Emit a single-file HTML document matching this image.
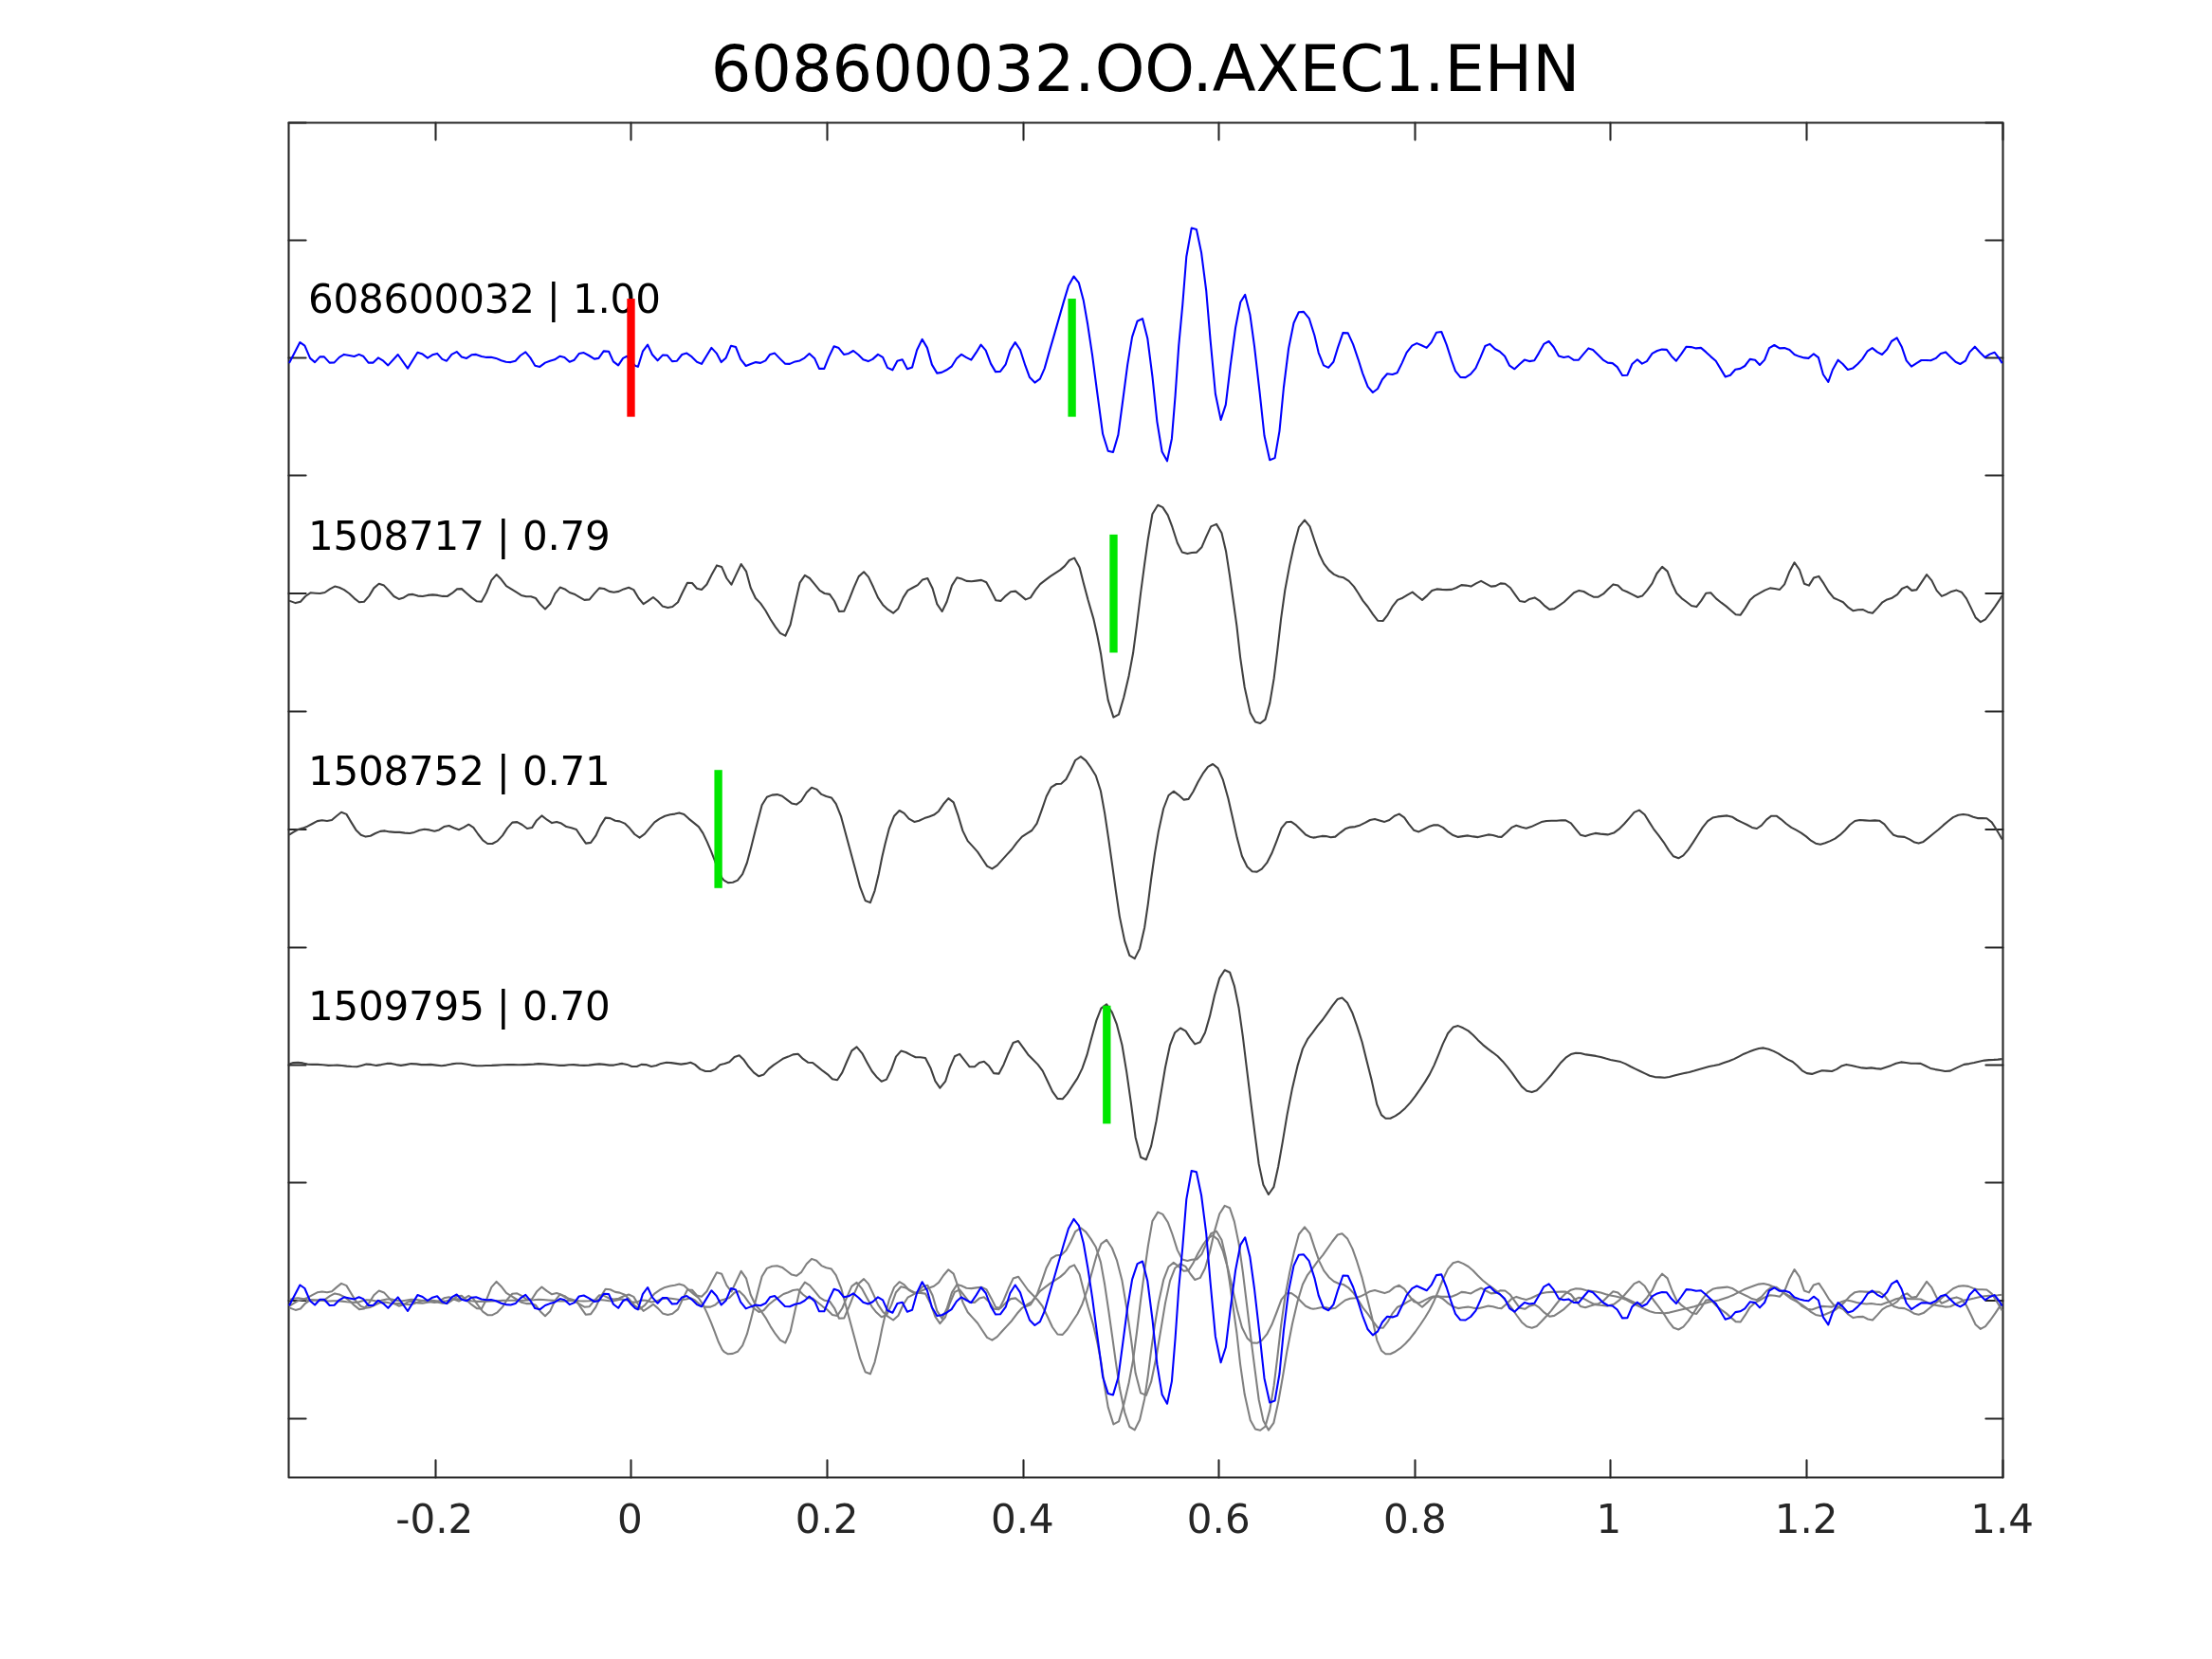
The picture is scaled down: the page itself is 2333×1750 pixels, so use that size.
<!DOCTYPE html>
<html><head><meta charset="utf-8"><title>608600032.OO.AXEC1.EHN</title>
<style>
html,body{margin:0;padding:0;background:#fff;overflow:hidden;}
svg{display:block;}
text{font-family:"DejaVu Sans","Liberation Sans",sans-serif;will-change:transform;}
.tk{font-size:42px;fill:#262626;}
.lb{font-size:42px;fill:#000;letter-spacing:-0.2px;}
.ti{font-size:67px;fill:#000;}
</style></head><body>
<svg width="2333" height="1750" viewBox="0 0 2333 1750">
<rect width="2333" height="1750" fill="#fff"/>
<path d="M304.5,129.5H2112.5V1558.5H304.5Z" fill="none" stroke="#262626" stroke-width="2.08" stroke-linejoin="round"/>
<path d="M459.5,1558.5V1540.40M459.5,129.5V147.60M665.5,1558.5V1540.40M665.5,129.5V147.60M872.5,1558.5V1540.40M872.5,129.5V147.60M1079.5,1558.5V1540.40M1079.5,129.5V147.60M1285.5,1558.5V1540.40M1285.5,129.5V147.60M1492.5,1558.5V1540.40M1492.5,129.5V147.60M1698.5,1558.5V1540.40M1698.5,129.5V147.60M1905.5,1558.5V1540.40M1905.5,129.5V147.60M2112.5,1558.5V1540.40M2112.5,129.5V147.60M304.5,129.5H322.60M2112.5,129.5H2094.40M304.5,253.5H322.60M2112.5,253.5H2094.40M304.5,377.5H322.60M2112.5,377.5H2094.40M304.5,501.5H322.60M2112.5,501.5H2094.40M304.5,626.0H322.60M2112.5,626.0H2094.40M304.5,750.5H322.60M2112.5,750.5H2094.40M304.5,875.0H322.60M2112.5,875.0H2094.40M304.5,999.5H322.60M2112.5,999.5H2094.40M304.5,1123.5H322.60M2112.5,1123.5H2094.40M304.5,1247.5H322.60M2112.5,1247.5H2094.40M304.5,1372.0H322.60M2112.5,1372.0H2094.40M304.5,1496.5H322.60M2112.5,1496.5H2094.40" stroke="#262626" stroke-width="2.08" stroke-linecap="round" fill="none"/>
<polyline points="305.0,1379.4 311.7,1381.9 316.9,1380.5 322.1,1374.8 327.4,1371.1 332.6,1371.5 337.4,1371.8 342.6,1370.8 347.9,1367.2 353.1,1364.4 357.9,1365.5 362.9,1367.9 368.3,1371.8 373.6,1376.9 378.9,1381.1 384.0,1380.5 389.3,1374.4 394.3,1366.2 399.7,1361.5 405.0,1363.4 410.3,1369.1 415.4,1374.8 420.7,1377.7 425.7,1376.2 430.7,1373.2 435.4,1372.7 440.7,1374.4 445.7,1374.8 451.1,1373.7 456.4,1373.2 461.7,1373.7 466.9,1374.7 471.7,1374.8 476.9,1371.5 482.1,1367.2 486.9,1366.9 492.1,1371.5 497.4,1376.2 502.9,1380.1 507.9,1380.4 513.1,1370.8 518.3,1357.9 523.6,1351.9 528.6,1356.9 534.0,1363.9 539.3,1367.2 544.6,1370.5 549.7,1373.7 555.0,1375.1 560.0,1375.1 565.0,1376.8 570.0,1383.4 575.0,1388.2 580.3,1382.9 585.4,1371.9 590.7,1365.4 595.7,1367.2 600.7,1370.8 605.7,1372.5 610.7,1375.4 616.4,1378.7 621.7,1378.2 626.9,1371.9 632.1,1366.2 637.1,1366.8 642.6,1369.7 647.4,1370.5 652.6,1369.7 657.9,1367.2 663.1,1365.5 668.3,1367.9 673.6,1376.8 678.6,1382.9 683.6,1379.7 688.9,1375.8 694.0,1380.1 698.9,1385.4 704.3,1386.9 709.3,1385.8 715.0,1381.1 719.7,1371.1 725.0,1360.5 730.0,1360.8 735.0,1366.5 740.0,1367.7 745.4,1362.2 750.7,1351.9 756.0,1342.2 761.1,1343.7 766.4,1355.8 771.4,1362.5 776.4,1351.9 781.7,1340.8 787.1,1348.7 791.7,1365.8 796.9,1376.8 802.1,1382.2 807.4,1389.8 812.6,1399.1 817.9,1407.2 822.9,1413.7 828.3,1416.5 833.6,1404.8 838.6,1382.2 843.6,1360.4 848.9,1352.7 854.0,1355.8 859.3,1362.2 864.6,1368.7 869.7,1371.8 875.0,1372.7 880.0,1379.8 885.0,1390.8 890.3,1390.4 895.7,1377.9 900.7,1365.1 905.7,1353.9 911.1,1349.1 916.0,1354.4 921.1,1365.1 926.0,1376.2 931.1,1383.7 936.4,1388.7 942.1,1392.5 947.4,1387.7 952.6,1376.2 957.4,1368.7 962.6,1365.8 967.9,1362.9 973.1,1357.2 978.3,1355.8 983.6,1366.5 988.3,1382.9 993.6,1390.8 998.6,1380.5 1004.0,1363.4 1009.3,1355.1 1014.0,1356.2 1019.3,1358.7 1024.6,1359.1 1029.7,1358.4 1035.0,1357.7 1040.3,1360.1 1045.4,1369.4 1050.3,1379.1 1055.4,1379.7 1060.7,1374.4 1066.0,1370.1 1071.1,1369.4 1076.4,1373.7 1081.7,1378.2 1086.9,1376.2 1092.1,1368.2 1097.1,1361.9 1102.6,1357.7 1107.9,1353.7 1112.9,1350.4 1118.3,1346.9 1122.9,1342.9 1127.9,1336.8 1133.1,1334.4 1138.6,1344.2 1142.8,1360.8 1147.6,1378.8 1153.3,1398.4 1157.4,1416.5 1161.2,1436.1 1164.9,1461.7 1168.7,1484.4 1174.4,1502.4 1180.0,1499.4 1185.3,1481.3 1190.6,1458.7 1195.1,1434.6 1198.9,1406.0 1203.1,1371.3 1207.1,1341.2 1210.9,1314.0 1215.4,1288.1 1221.2,1278.6 1226.3,1280.9 1231.7,1289.2 1236.5,1302.0 1241.8,1318.6 1246.8,1328.4 1252.4,1329.9 1256.9,1328.8 1262.2,1328.4 1267.4,1323.1 1272.0,1312.5 1277.2,1301.2 1283.0,1298.7 1288.5,1308.0 1293.1,1327.6 1296.8,1351.7 1300.6,1378.8 1304.4,1406.0 1308.1,1439.1 1312.7,1470.8 1318.7,1497.9 1324.0,1507.4 1329.2,1508.8 1334.5,1504.7 1339.3,1487.4 1343.6,1461.7 1347.3,1431.6 1351.1,1398.4 1355.3,1368.3 1360.1,1342.7 1364.7,1321.6 1369.9,1302.0 1376.0,1294.4 1381.5,1301.2 1386.5,1316.3 1391.5,1330.6 1396.3,1340.4 1401.6,1347.2 1406.9,1351.7 1412.1,1354.0 1417.1,1355.1 1422.6,1358.7 1427.9,1364.4 1432.6,1371.5 1437.4,1379.4 1442.6,1385.8 1447.9,1393.7 1453.1,1400.5 1458.6,1400.8 1463.6,1394.4 1468.9,1385.1 1474.0,1378.7 1479.3,1376.5 1484.3,1373.4 1489.7,1370.4 1495.0,1374.8 1500.0,1378.7 1505.4,1373.9 1510.3,1368.9 1515.4,1367.2 1520.7,1367.7 1525.7,1367.9 1531.1,1367.7 1536.0,1365.8 1541.4,1362.9 1546.4,1363.4 1551.4,1364.4 1556.9,1361.2 1562.1,1358.7 1567.1,1361.5 1572.6,1364.4 1577.4,1363.9 1582.6,1361.2 1587.4,1361.5 1592.9,1365.8 1597.9,1372.9 1602.9,1379.8 1608.3,1380.8 1613.1,1377.7 1618.6,1376.2 1623.6,1379.4 1628.6,1384.4 1634.3,1388.7 1639.3,1387.9 1644.6,1384.4 1649.7,1380.8 1655.0,1375.8 1660.0,1371.1 1665.4,1368.7 1670.4,1369.8 1675.7,1372.9 1680.7,1375.5 1685.7,1375.4 1691.1,1372.2 1696.0,1367.2 1701.4,1362.2 1706.4,1363.4 1711.4,1368.2 1716.0,1370.1 1721.7,1372.9 1727.4,1375.8 1732.1,1374.4 1737.1,1368.7 1742.6,1361.2 1747.4,1350.8 1753.1,1343.7 1758.6,1348.4 1763.6,1361.5 1768.3,1371.5 1773.6,1376.9 1778.9,1380.8 1784.0,1384.8 1789.3,1385.9 1794.3,1379.4 1799.3,1371.5 1804.3,1371.1 1810.0,1377.2 1815.4,1381.5 1820.7,1385.4 1826.0,1390.1 1830.7,1394.1 1835.7,1394.5 1840.7,1387.2 1845.7,1378.9 1850.7,1374.4 1856.0,1371.5 1861.4,1368.4 1866.9,1366.2 1872.1,1366.8 1877.1,1367.7 1882.1,1362.2 1887.4,1348.7 1892.6,1339.1 1897.9,1346.8 1902.9,1361.5 1907.9,1363.4 1912.9,1355.4 1918.3,1353.7 1923.6,1361.5 1928.6,1369.8 1934.0,1376.5 1938.9,1378.7 1944.0,1381.1 1949.3,1386.5 1954.6,1390.1 1959.7,1389.1 1965.0,1388.9 1970.0,1391.5 1975.0,1392.5 1980.3,1386.9 1985.4,1381.1 1990.3,1378.2 1995.7,1376.5 2001.1,1372.9 2006.0,1366.8 2011.4,1364.4 2016.4,1368.7 2021.4,1367.9 2032.1,1351.9 2037.4,1358.2 2042.6,1368.7 2047.9,1374.7 2053.1,1372.5 2058.3,1369.7 2063.6,1368.4 2068.9,1370.5 2074.0,1377.2 2078.9,1387.2 2083.6,1397.2 2088.9,1401.9 2094.0,1399.1 2099.3,1392.5 2104.3,1385.4 2109.3,1377.9 2111.7,1373.9" fill="none" stroke="#808080" stroke-width="2.08" stroke-linejoin="round"/>
<polyline points="305.0,1377.9 309.3,1375.1 314.3,1372.2 319.3,1370.8 324.3,1368.9 329.3,1366.2 334.6,1363.3 339.7,1362.5 345.0,1363.2 350.0,1362.2 355.0,1357.9 360.0,1353.9 365.4,1356.1 370.3,1364.3 375.4,1372.6 380.7,1377.9 385.7,1379.8 390.7,1378.9 396.0,1376.2 401.1,1374.1 406.0,1373.6 411.1,1374.6 416.4,1375.1 421.4,1375.1 426.9,1375.8 432.1,1376.2 437.1,1375.1 442.4,1372.9 447.6,1371.9 452.9,1372.6 458.3,1373.9 463.1,1372.6 468.3,1369.3 473.6,1368.2 478.6,1370.5 484.0,1372.5 488.9,1370.1 494.3,1366.9 499.3,1370.1 504.3,1377.2 509.3,1383.6 514.3,1387.2 519.3,1387.2 524.6,1384.3 530.0,1378.6 535.0,1370.8 540.3,1364.8 545.4,1364.3 550.7,1367.2 556.0,1371.2 561.1,1370.3 566.0,1362.6 571.4,1357.6 576.9,1361.9 582.1,1365.3 587.1,1364.1 592.1,1365.8 597.4,1369.3 602.6,1370.5 607.9,1372.2 612.1,1378.6 617.9,1386.8 623.1,1386.1 628.3,1378.9 633.1,1368.6 638.6,1359.8 643.6,1360.3 648.9,1362.9 653.6,1363.6 658.9,1365.8 664.0,1370.8 669.3,1377.2 674.6,1380.8 680.0,1376.9 685.0,1370.8 690.3,1364.6 695.7,1360.8 701.4,1357.9 706.9,1356.5 711.7,1355.8 716.4,1354.6 721.4,1356.1 726.4,1360.8 731.7,1365.1 736.9,1369.3 741.4,1376.1 745.7,1385.1 750.0,1395.1 753.6,1404.3 757.9,1415.8 761.7,1423.6 763.6,1425.8 767.9,1428.3 772.9,1427.9 777.9,1425.8 783.1,1419.3 787.9,1407.2 792.1,1391.5 796.4,1374.3 800.0,1360.1 803.6,1346.5 808.9,1337.9 814.3,1335.8 819.7,1335.3 825.0,1336.9 830.0,1340.8 835.0,1344.6 840.0,1345.8 845.0,1342.2 850.7,1333.2 856.0,1327.9 861.1,1329.8 866.4,1335.1 871.4,1337.2 876.9,1338.6 881.7,1345.1 887.1,1358.6 892.1,1377.2 897.1,1395.8 902.1,1414.3 907.1,1432.9 912.6,1447.2 917.9,1449.3 922.6,1436.8 926.9,1418.6 930.3,1401.5 933.6,1387.2 937.9,1370.8 943.1,1357.9 948.6,1352.2 953.6,1355.1 958.6,1360.8 964.3,1364.1 969.3,1362.9 975.0,1360.3 980.0,1358.6 985.0,1356.8 990.0,1352.9 995.0,1345.5 1000.3,1339.3 1005.7,1343.6 1010.7,1357.9 1015.4,1373.6 1020.7,1384.3 1026.0,1390.1 1031.1,1395.8 1036.0,1403.2 1041.1,1410.8 1046.4,1413.6 1051.7,1410.1 1056.9,1404.3 1062.1,1398.6 1067.1,1393.2 1072.6,1385.8 1077.9,1379.8 1082.9,1376.5 1088.3,1373.2 1093.6,1365.8 1098.5,1352.3 1103.7,1337.2 1108.8,1327.5 1114.3,1324.2 1119.2,1323.9 1124.4,1319.1 1129.3,1309.7 1134.1,1299.2 1139.9,1295.3 1145.3,1299.6 1150.5,1306.9 1155.8,1315.5 1160.9,1331.4 1165.2,1355.3 1169.3,1382.8 1173.2,1410.3 1176.8,1436.3 1180.8,1463.8 1186.2,1489.8 1191.3,1505.0 1196.8,1508.3 1202.1,1497.8 1207.2,1475.4 1210.8,1450.8 1214.1,1424.7 1218.0,1397.3 1221.9,1374.1 1227.1,1350.2 1232.5,1336.2 1237.8,1331.9 1243.0,1335.8 1248.4,1340.8 1253.5,1340.1 1258.5,1332.2 1263.6,1322.0 1268.6,1313.4 1274.0,1306.1 1279.2,1303.2 1284.6,1307.6 1289.9,1319.9 1295.4,1339.4 1300.0,1359.6 1304.8,1381.3 1309.9,1400.2 1315.4,1411.4 1320.7,1416.4 1325.8,1416.8 1330.8,1413.9 1336.2,1407.4 1341.4,1397.3 1346.8,1383.5 1351.5,1370.9 1356.9,1364.4 1361.9,1364.0 1367.0,1367.6 1372.1,1372.7 1377.1,1377.7 1382.5,1380.3 1385.0,1380.8 1388.4,1380.3 1394.3,1379.1 1398.6,1379.3 1403.6,1380.5 1408.3,1379.8 1413.6,1375.5 1418.9,1371.5 1424.0,1369.8 1429.3,1369.3 1434.6,1367.6 1439.7,1365.1 1445.0,1362.2 1450.0,1361.1 1455.0,1362.6 1460.3,1364.1 1465.4,1362.2 1470.7,1357.9 1475.7,1355.8 1481.1,1359.6 1486.0,1366.5 1491.1,1372.9 1496.4,1374.6 1501.4,1372.2 1506.9,1369.3 1511.7,1367.6 1516.9,1367.5 1521.9,1370.1 1527.1,1374.6 1532.6,1378.3 1537.9,1380.1 1542.9,1379.3 1548.3,1378.6 1553.6,1379.6 1558.9,1380.3 1564.3,1378.9 1569.7,1377.6 1574.6,1378.2 1579.7,1379.8 1583.6,1380.1 1588.9,1375.5 1594.3,1370.1 1599.3,1367.9 1604.6,1369.8 1609.7,1370.9 1615.0,1369.3 1620.3,1366.8 1625.7,1364.3 1631.1,1363.2 1636.4,1362.9 1641.7,1362.9 1646.9,1362.5 1651.4,1362.6 1656.9,1365.5 1661.7,1371.5 1666.9,1377.9 1672.1,1379.3 1677.4,1377.5 1682.6,1376.1 1687.9,1376.8 1695.7,1377.6 1702.1,1375.8 1707.4,1371.9 1712.9,1366.5 1718.3,1360.3 1723.6,1354.1 1728.9,1351.8 1734.6,1356.5 1739.3,1364.1 1744.0,1371.5 1749.3,1378.3 1754.6,1385.5 1760.0,1394.1 1765.0,1400.5 1770.3,1402.5 1775.4,1399.6 1780.7,1393.3 1785.7,1385.8 1790.7,1377.9 1795.7,1370.1 1801.1,1363.3 1806.4,1359.8 1811.7,1358.6 1816.9,1358.1 1821.7,1357.6 1826.9,1358.9 1832.1,1362.2 1837.1,1364.6 1842.6,1367.2 1847.9,1370.1 1852.9,1371.2 1857.9,1367.9 1863.1,1361.8 1868.3,1357.9 1873.6,1357.9 1878.6,1361.5 1884.0,1366.2 1889.3,1370.1 1894.6,1372.9 1899.7,1375.8 1905.0,1379.6 1910.0,1383.9 1915.0,1386.9 1920.0,1387.9 1925.0,1386.5 1930.3,1384.3 1935.4,1381.8 1940.7,1377.9 1946.0,1372.9 1951.1,1367.2 1956.4,1363.2 1961.4,1362.2 1966.9,1362.6 1972.1,1362.9 1977.4,1362.6 1982.1,1362.9 1987.4,1366.5 1992.1,1372.6 1997.1,1377.9 2002.1,1379.6 2008.6,1380.1 2014.0,1382.6 2019.3,1385.8 2023.6,1386.8 2028.6,1385.1 2034.0,1380.8 2039.3,1376.5 2044.6,1372.2 2049.7,1367.6 2055.0,1363.2 2060.0,1359.3 2065.4,1356.9 2070.7,1356.2 2076.0,1356.9 2081.1,1358.9 2085.7,1360.3 2090.7,1360.3 2095.4,1360.5 2100.7,1364.6 2105.0,1371.2 2108.6,1377.2 2111.7,1382.6" fill="none" stroke="#808080" stroke-width="2.08" stroke-linejoin="round"/>
<polyline points="305.0,1371.2 309.3,1369.7 314.3,1369.3 319.3,1370.0 324.3,1371.2 329.3,1371.5 335.0,1371.5 340.7,1371.9 346.4,1372.5 351.4,1372.3 355.7,1372.2 360.7,1372.6 365.7,1373.2 370.7,1373.6 376.4,1373.9 381.4,1372.6 386.4,1371.2 391.4,1371.5 397.1,1372.5 402.1,1371.7 407.9,1370.5 412.9,1370.5 417.9,1371.7 422.9,1372.5 427.9,1371.7 433.6,1370.7 439.3,1371.0 444.3,1371.7 449.3,1371.7 454.3,1371.5 460.0,1372.2 465.7,1372.9 470.7,1372.2 476.4,1371.0 481.4,1370.3 486.4,1370.3 491.4,1371.2 497.1,1372.2 502.9,1372.9 507.9,1372.9 512.9,1372.6 518.6,1372.5 524.3,1372.2 530.0,1371.9 535.7,1371.7 541.4,1371.7 547.1,1371.9 552.9,1371.7 557.9,1371.5 562.9,1371.2 567.9,1370.7 572.9,1371.0 578.6,1371.5 584.3,1371.9 590.0,1372.5 595.0,1372.5 600.0,1371.9 605.0,1371.7 610.7,1372.2 615.7,1372.5 621.1,1372.2 626.9,1371.5 632.1,1371.0 637.4,1371.5 642.6,1372.2 647.4,1372.2 652.9,1371.0 656.4,1370.5 661.4,1371.5 666.4,1373.6 671.7,1373.6 676.4,1371.5 681.4,1371.7 686.9,1373.6 692.1,1372.6 697.1,1370.5 702.9,1369.3 707.9,1369.7 713.1,1370.5 718.3,1371.2 723.6,1370.5 728.3,1369.3 732.9,1371.5 738.6,1376.5 744.0,1378.6 749.3,1378.6 754.3,1376.5 759.3,1371.9 764.3,1370.5 769.3,1368.9 774.6,1363.6 779.7,1361.9 784.6,1366.7 789.7,1373.9 795.0,1380.0 800.4,1383.9 805.4,1382.2 810.7,1376.2 815.7,1372.2 821.1,1368.6 826.4,1365.0 831.4,1363.2 836.4,1361.0 841.7,1360.3 846.9,1365.5 852.1,1369.3 857.1,1369.6 862.6,1374.0 867.9,1378.3 872.9,1381.9 877.9,1386.9 883.1,1387.9 888.3,1380.0 893.1,1368.6 898.3,1356.9 903.6,1352.9 909.3,1359.7 914.3,1369.0 919.7,1378.6 924.3,1384.3 929.7,1389.3 935.0,1387.2 940.0,1376.9 945.0,1363.2 950.3,1357.2 955.4,1358.6 960.7,1361.5 965.7,1363.9 970.7,1363.9 976.0,1364.6 981.4,1375.0 986.4,1388.9 991.4,1396.2 997.1,1389.3 1001.7,1375.0 1006.9,1362.9 1012.1,1360.5 1017.4,1367.2 1022.6,1373.9 1027.9,1373.9 1032.9,1369.6 1037.9,1368.3 1043.1,1373.2 1048.1,1380.7 1053.6,1381.2 1058.6,1371.5 1063.6,1359.3 1068.6,1348.6 1074.0,1346.7 1079.3,1354.0 1084.3,1361.0 1089.3,1366.0 1094.6,1371.5 1099.7,1378.2 1105.0,1389.3 1110.0,1400.0 1115.4,1407.5 1120.7,1407.9 1125.7,1402.2 1131.1,1394.0 1136.4,1386.0 1141.4,1375.7 1146.4,1361.5 1151.4,1342.9 1156.4,1325.0 1161.4,1312.2 1167.1,1307.9 1172.9,1316.5 1177.9,1329.3 1183.5,1351.1 1188.2,1379.3 1192.9,1412.2 1197.6,1448.3 1203.1,1469.4 1208.9,1471.8 1214.1,1457.7 1219.6,1431.0 1224.3,1402.8 1229.0,1374.6 1234.0,1351.1 1239.2,1337.8 1245.0,1333.1 1250.6,1336.2 1255.6,1344.0 1260.3,1350.0 1265.8,1347.9 1271.0,1337.8 1276.0,1320.5 1281.0,1298.6 1286.2,1280.5 1291.7,1271.9 1297.1,1274.3 1301.8,1288.4 1306.6,1311.9 1310.8,1341.7 1315.2,1377.7 1319.6,1413.8 1323.8,1446.7 1327.7,1476.5 1332.4,1498.4 1337.9,1508.6 1343.4,1500.8 1348.1,1479.6 1352.8,1453.0 1357.5,1424.7 1363.0,1396.5 1368.5,1373.0 1373.9,1355.0 1379.1,1344.8 1384.5,1337.8 1389.6,1330.7 1395.1,1324.1 1399.8,1317.4 1405.3,1309.5 1410.8,1302.5 1415.5,1301.2 1421.0,1306.4 1426.5,1317.4 1431.2,1330.7 1436.6,1347.9 1441.3,1366.8 1446.8,1388.7 1452.3,1413.8 1457.0,1424.7 1461.4,1428.3 1466.4,1428.3 1471.7,1425.7 1476.9,1422.2 1482.1,1417.5 1487.4,1411.7 1492.6,1405.0 1497.9,1397.5 1502.9,1390.0 1507.9,1381.7 1512.6,1372.2 1517.1,1361.5 1521.7,1350.0 1527.1,1338.6 1532.6,1332.2 1537.9,1330.7 1543.1,1332.9 1548.6,1336.0 1553.6,1340.3 1558.6,1345.5 1564.0,1350.7 1569.3,1355.0 1574.6,1358.9 1579.7,1362.9 1585.0,1368.3 1590.0,1374.3 1595.0,1380.7 1599.7,1387.5 1605.0,1394.7 1610.3,1399.3 1615.7,1400.7 1620.7,1398.9 1625.7,1394.0 1631.1,1388.2 1636.0,1382.6 1641.1,1376.0 1646.4,1369.3 1651.4,1364.3 1656.9,1360.7 1662.1,1359.3 1667.1,1359.6 1672.6,1361.0 1677.9,1361.7 1683.1,1362.5 1688.3,1363.6 1693.6,1365.2 1698.6,1366.5 1704.0,1367.6 1709.3,1368.7 1714.3,1370.7 1719.7,1373.6 1725.0,1376.2 1730.0,1378.6 1735.0,1381.0 1740.0,1383.3 1745.4,1384.7 1750.7,1385.0 1755.7,1385.3 1760.7,1384.6 1766.0,1383.2 1771.1,1381.9 1776.4,1380.7 1781.7,1379.6 1786.9,1378.2 1792.1,1376.5 1797.4,1375.0 1802.6,1373.6 1807.9,1372.6 1812.9,1371.5 1818.3,1369.7 1823.6,1367.9 1828.9,1365.7 1834.3,1362.9 1839.3,1360.3 1844.6,1358.2 1850.0,1356.2 1855.0,1354.6 1860.0,1354.0 1865.4,1355.3 1870.7,1357.5 1875.7,1360.0 1880.7,1363.3 1885.7,1366.2 1890.7,1368.6 1895.7,1372.9 1900.7,1377.9 1905.7,1380.7 1911.1,1381.5 1916.4,1379.6 1921.7,1377.9 1927.1,1378.2 1932.1,1378.6 1937.1,1376.5 1942.1,1373.2 1947.4,1371.5 1952.9,1372.6 1958.3,1373.9 1963.6,1375.0 1968.6,1375.5 1973.6,1375.0 1978.6,1375.7 1984.0,1376.2 1989.3,1374.3 1994.6,1372.5 1999.7,1370.3 2005.0,1369.0 2010.3,1369.6 2015.4,1370.3 2020.7,1370.3 2025.7,1370.5 2030.7,1372.9 2036.0,1375.5 2041.1,1376.7 2046.4,1377.6 2051.4,1378.6 2056.9,1378.2 2062.1,1375.7 2071.4,1371.5 2076.9,1370.7 2082.1,1369.6 2087.4,1368.3 2092.9,1367.2 2097.9,1366.7 2102.9,1366.5 2107.1,1366.2 2111.7,1365.7" fill="none" stroke="#808080" stroke-width="2.08" stroke-linejoin="round"/>
<polyline points="305.0,1377.3 316.4,1355.5 321.4,1359.0 327.1,1372.3 332.1,1376.5 337.4,1370.8 341.9,1370.8 347.6,1377.0 352.6,1376.8 357.9,1371.3 362.9,1368.3 368.6,1369.4 373.6,1370.4 378.6,1368.3 383.1,1370.1 388.6,1377.0 393.6,1377.0 398.9,1371.8 404.3,1375.1 409.3,1379.8 419.7,1368.4 430.0,1383.0 440.4,1366.1 445.7,1368.0 451.0,1372.0 456.1,1368.7 461.1,1367.3 466.4,1373.3 471.1,1375.1 476.4,1368.3 481.7,1365.5 486.9,1370.8 492.1,1372.3 497.4,1368.7 502.1,1368.3 507.9,1370.4 513.1,1371.3 517.9,1371.1 523.1,1372.3 528.6,1374.7 533.6,1376.1 538.6,1376.5 543.6,1375.1 548.9,1369.4 554.3,1365.8 559.3,1371.8 564.3,1380.1 569.3,1381.3 575.0,1377.0 580.0,1375.1 585.0,1373.7 590.7,1370.1 595.4,1371.3 600.7,1376.1 605.7,1374.1 610.7,1367.5 615.7,1366.5 621.1,1369.4 626.9,1373.0 631.4,1372.3 636.7,1364.8 642.1,1365.1 646.9,1375.8 652.1,1379.8 657.1,1372.3 661.4,1370.1 665.7,1375.8 670.0,1380.1 672.9,1381.3 677.9,1365.1 683.1,1358.0 687.9,1368.4 693.6,1374.7 698.9,1369.0 703.6,1369.1 708.9,1375.5 714.0,1375.1 719.3,1368.4 724.3,1367.0 729.7,1370.8 735.0,1376.1 740.0,1378.3 745.4,1369.4 750.4,1361.3 755.7,1367.0 760.7,1376.5 765.7,1371.8 771.0,1359.1 776.0,1360.4 781.1,1373.3 786.7,1380.4 791.7,1378.4 797.1,1376.5 802.1,1377.3 807.4,1374.8 812.1,1368.3 817.1,1367.0 822.9,1373.0 827.9,1378.0 832.9,1378.3 838.6,1375.8 843.6,1374.8 848.6,1372.0 853.6,1367.5 859.3,1372.7 864.0,1383.3 869.3,1383.3 874.3,1370.8 879.6,1359.7 884.6,1361.5 890.0,1368.3 895.0,1367.3 900.0,1364.4 905.4,1368.7 910.4,1373.7 915.7,1375.5 920.4,1373.3 926.0,1368.3 931.1,1371.3 936.0,1382.3 941.4,1384.7 946.4,1375.1 951.7,1373.7 956.9,1383.7 962.1,1381.8 967.1,1363.7 972.6,1352.3 977.9,1361.3 982.9,1379.0 988.3,1388.0 993.1,1387.3 998.3,1384.7 1003.6,1381.1 1008.9,1372.7 1014.0,1368.3 1019.3,1371.5 1024.3,1374.1 1029.7,1366.1 1034.6,1358.0 1039.7,1364.0 1045.0,1378.0 1050.0,1386.5 1055.0,1386.3 1060.7,1378.7 1065.4,1364.0 1070.7,1355.5 1076.0,1363.4 1081.4,1380.1 1086.0,1392.5 1091.4,1398.0 1096.9,1394.1 1101.7,1383.0 1106.5,1366.0 1112.2,1346.5 1122.0,1312.3 1126.9,1296.0 1132.5,1285.9 1137.9,1292.8 1142.8,1311.5 1147.2,1336.7 1152.1,1369.2 1157.0,1406.7 1163.1,1452.2 1168.7,1470.1 1174.0,1471.4 1179.4,1453.0 1184.3,1416.4 1189.2,1379.0 1194.1,1349.7 1199.6,1333.1 1205.0,1330.5 1210.3,1351.3 1215.5,1392.0 1220.4,1439.2 1225.6,1470.9 1231.0,1480.7 1235.9,1457.1 1239.6,1411.5 1243.2,1359.5 1247.3,1315.5 1251.3,1265.1 1256.7,1235.0 1261.9,1236.3 1267.1,1261.0 1272.2,1300.9 1276.6,1353.0 1281.9,1409.9 1287.6,1437.3 1292.8,1421.3 1297.7,1380.6 1303.1,1339.9 1308.3,1313.1 1313.2,1305.3 1318.4,1326.1 1323.0,1359.5 1328.6,1408.3 1333.5,1453.9 1339.2,1479.6 1344.6,1477.5 1349.5,1449.0 1353.9,1403.4 1359.1,1361.9 1364.5,1335.1 1369.8,1323.7 1375.0,1323.3 1380.7,1330.2 1386.4,1348.1 1390.7,1366.5 1396.0,1379.8 1401.1,1382.3 1406.4,1376.1 1411.1,1360.8 1416.4,1345.5 1421.7,1345.8 1427.1,1357.5 1432.6,1373.7 1437.1,1388.0 1442.6,1402.3 1447.9,1408.4 1453.1,1404.4 1457.9,1394.7 1463.1,1388.7 1468.6,1389.4 1473.6,1387.7 1478.6,1377.5 1483.6,1366.3 1489.3,1359.1 1494.3,1356.5 1499.3,1358.7 1504.7,1361.3 1509.7,1355.4 1515.0,1345.1 1520.3,1344.4 1525.7,1358.0 1530.7,1373.7 1535.0,1385.8 1540.3,1392.3 1545.7,1392.5 1551.1,1389.0 1556.4,1382.7 1561.4,1371.5 1566.4,1359.4 1571.4,1357.3 1576.9,1362.7 1581.7,1365.1 1587.1,1370.1 1592.1,1380.1 1597.4,1383.7 1602.9,1378.4 1607.9,1374.0 1612.9,1375.5 1618.3,1374.7 1622.9,1367.0 1628.3,1357.3 1633.6,1354.4 1638.6,1360.4 1644.0,1369.8 1649.3,1371.3 1654.3,1370.4 1659.7,1374.0 1665.0,1374.1 1670.0,1368.0 1675.4,1361.8 1680.0,1363.3 1685.7,1369.0 1690.7,1374.0 1695.7,1377.0 1700.7,1377.5 1705.7,1381.5 1711.1,1390.4 1716.4,1390.1 1721.4,1378.4 1726.9,1373.7 1731.9,1378.0 1736.9,1375.5 1742.6,1367.3 1747.9,1364.4 1752.9,1363.0 1757.9,1363.3 1762.9,1370.1 1767.9,1375.1 1773.1,1368.0 1778.6,1360.1 1783.6,1360.5 1788.9,1361.8 1794.0,1361.3 1799.3,1365.8 1804.3,1370.5 1809.7,1375.1 1814.6,1383.3 1819.7,1391.8 1825.0,1390.1 1830.3,1384.1 1835.4,1383.3 1840.3,1380.4 1845.7,1373.3 1851.1,1374.1 1856.0,1379.4 1861.1,1374.0 1866.0,1361.5 1871.4,1358.4 1876.9,1361.8 1882.1,1361.5 1887.4,1363.3 1892.6,1368.4 1897.9,1370.5 1902.9,1371.8 1907.4,1372.3 1912.9,1367.7 1917.9,1371.5 1922.9,1389.4 1928.3,1397.3 1932.9,1384.4 1938.6,1374.1 1943.6,1378.4 1948.9,1384.4 1954.0,1383.0 1959.3,1378.4 1964.3,1373.0 1969.7,1364.7 1974.7,1361.5 1980.0,1365.8 1985.0,1368.4 1990.3,1363.0 1995.0,1354.4 2000.7,1350.8 2005.7,1360.1 2010.7,1374.7 2016.0,1381.1 2021.4,1377.5 2026.4,1374.4 2031.4,1374.4 2036.4,1374.7 2041.7,1372.3 2046.9,1367.3 2052.1,1365.8 2057.1,1370.8 2062.6,1376.1 2067.4,1378.4 2072.9,1375.1 2077.4,1365.8 2082.9,1360.1 2088.3,1366.1 2093.6,1371.3 2098.6,1368.0 2103.6,1366.1 2108.6,1372.5 2111.7,1377.5" fill="none" stroke="#0000ff" stroke-width="2.08" stroke-linejoin="round"/>
<polyline points="305.0,382.9 316.4,361.1 321.4,364.6 327.1,377.9 332.1,382.1 337.4,376.4 341.9,376.4 347.6,382.6 352.6,382.4 357.9,376.9 362.9,373.9 368.6,375.0 373.6,376.0 378.6,373.9 383.1,375.7 388.6,382.6 393.6,382.6 398.9,377.4 404.3,380.7 409.3,385.4 419.7,374.0 430.0,388.6 440.4,371.7 445.7,373.6 451.0,377.6 456.1,374.3 461.1,372.9 466.4,378.9 471.1,380.7 476.4,373.9 481.7,371.1 486.9,376.4 492.1,377.9 497.4,374.3 502.1,373.9 507.9,376.0 513.1,376.9 517.9,376.7 523.1,377.9 528.6,380.3 533.6,381.7 538.6,382.1 543.6,380.7 548.9,375.0 554.3,371.4 559.3,377.4 564.3,385.7 569.3,386.9 575.0,382.6 580.0,380.7 585.0,379.3 590.7,375.7 595.4,376.9 600.7,381.7 605.7,379.7 610.7,373.1 615.7,372.1 621.1,375.0 626.9,378.6 631.4,377.9 636.7,370.4 642.1,370.7 646.9,381.4 652.1,385.4 657.1,377.9 661.4,375.7 665.7,381.4 670.0,385.7 672.9,386.9 677.9,370.7 683.1,363.6 687.9,374.0 693.6,380.3 698.9,374.6 703.6,374.7 708.9,381.1 714.0,380.7 719.3,374.0 724.3,372.6 729.7,376.4 735.0,381.7 740.0,383.9 745.4,375.0 750.4,366.9 755.7,372.6 760.7,382.1 765.7,377.4 771.0,364.7 776.0,366.0 781.1,378.9 786.7,386.0 791.7,384.0 797.1,382.1 802.1,382.9 807.4,380.4 812.1,373.9 817.1,372.6 822.9,378.6 827.9,383.6 832.9,383.9 838.6,381.4 843.6,380.4 848.6,377.6 853.6,373.1 859.3,378.3 864.0,388.9 869.3,388.9 874.3,376.4 879.6,365.3 884.6,367.1 890.0,373.9 895.0,372.9 900.0,370.0 905.4,374.3 910.4,379.3 915.7,381.1 920.4,378.9 926.0,373.9 931.1,376.9 936.0,387.9 941.4,390.3 946.4,380.7 951.7,379.3 956.9,389.3 962.1,387.4 967.1,369.3 972.6,357.9 977.9,366.9 982.9,384.6 988.3,393.6 993.1,392.9 998.3,390.3 1003.6,386.7 1008.9,378.3 1014.0,373.9 1019.3,377.1 1024.3,379.7 1029.7,371.7 1034.6,363.6 1039.7,369.6 1045.0,383.6 1050.0,392.1 1055.0,391.9 1060.7,384.3 1065.4,369.6 1070.7,361.1 1076.0,369.0 1081.4,385.7 1086.0,398.1 1091.4,403.6 1096.9,399.7 1101.7,388.6 1106.5,371.6 1112.2,352.1 1122.0,317.9 1126.9,301.6 1132.5,291.5 1137.9,298.4 1142.8,317.1 1147.2,342.3 1152.1,374.8 1157.0,412.3 1163.1,457.8 1168.7,475.7 1174.0,477.0 1179.4,458.6 1184.3,422.0 1189.2,384.6 1194.1,355.3 1199.6,338.7 1205.0,336.1 1210.3,356.9 1215.5,397.6 1220.4,444.8 1225.6,476.5 1231.0,486.3 1235.9,462.7 1239.6,417.1 1243.2,365.1 1247.3,321.1 1251.3,270.7 1256.7,240.6 1261.9,241.9 1267.1,266.6 1272.2,306.5 1276.6,358.6 1281.9,415.5 1287.6,442.9 1292.8,426.9 1297.7,386.2 1303.1,345.5 1308.3,318.7 1313.2,310.9 1318.4,331.7 1323.0,365.1 1328.6,413.9 1333.5,459.5 1339.2,485.2 1344.6,483.1 1349.5,454.6 1353.9,409.0 1359.1,367.5 1364.5,340.7 1369.8,329.3 1375.0,328.9 1380.7,335.8 1386.4,353.7 1390.7,372.1 1396.0,385.4 1401.1,387.9 1406.4,381.7 1411.1,366.4 1416.4,351.1 1421.7,351.4 1427.1,363.1 1432.6,379.3 1437.1,393.6 1442.6,407.9 1447.9,414.0 1453.1,410.0 1457.9,400.3 1463.1,394.3 1468.6,395.0 1473.6,393.3 1478.6,383.1 1483.6,371.9 1489.3,364.7 1494.3,362.1 1499.3,364.3 1504.7,366.9 1509.7,361.0 1515.0,350.7 1520.3,350.0 1525.7,363.6 1530.7,379.3 1535.0,391.4 1540.3,397.9 1545.7,398.1 1551.1,394.6 1556.4,388.3 1561.4,377.1 1566.4,365.0 1571.4,362.9 1576.9,368.3 1581.7,370.7 1587.1,375.7 1592.1,385.7 1597.4,389.3 1602.9,384.0 1607.9,379.6 1612.9,381.1 1618.3,380.3 1622.9,372.6 1628.3,362.9 1633.6,360.0 1638.6,366.0 1644.0,375.4 1649.3,376.9 1654.3,376.0 1659.7,379.6 1665.0,379.7 1670.0,373.6 1675.4,367.4 1680.0,368.9 1685.7,374.6 1690.7,379.6 1695.7,382.6 1700.7,383.1 1705.7,387.1 1711.1,396.0 1716.4,395.7 1721.4,384.0 1726.9,379.3 1731.9,383.6 1736.9,381.1 1742.6,372.9 1747.9,370.0 1752.9,368.6 1757.9,368.9 1762.9,375.7 1767.9,380.7 1773.1,373.6 1778.6,365.7 1783.6,366.1 1788.9,367.4 1794.0,366.9 1799.3,371.4 1804.3,376.1 1809.7,380.7 1814.6,388.9 1819.7,397.4 1825.0,395.7 1830.3,389.7 1835.4,388.9 1840.3,386.0 1845.7,378.9 1851.1,379.7 1856.0,385.0 1861.1,379.6 1866.0,367.1 1871.4,364.0 1876.9,367.4 1882.1,367.1 1887.4,368.9 1892.6,374.0 1897.9,376.1 1902.9,377.4 1907.4,377.9 1912.9,373.3 1917.9,377.1 1922.9,395.0 1928.3,402.9 1932.9,390.0 1938.6,379.7 1943.6,384.0 1948.9,390.0 1954.0,388.6 1959.3,384.0 1964.3,378.6 1969.7,370.3 1974.7,367.1 1980.0,371.4 1985.0,374.0 1990.3,368.6 1995.0,360.0 2000.7,356.4 2005.7,365.7 2010.7,380.3 2016.0,386.7 2021.4,383.1 2026.4,380.0 2031.4,380.0 2036.4,380.3 2041.7,377.9 2046.9,372.9 2052.1,371.4 2057.1,376.4 2062.6,381.7 2067.4,384.0 2072.9,380.7 2077.4,371.4 2082.9,365.7 2088.3,371.7 2093.6,376.9 2098.6,373.6 2103.6,371.7 2108.6,378.1 2111.7,383.1" fill="none" stroke="#0000ff" stroke-width="2.08" stroke-linejoin="round"/>
<polyline points="305.0,633.6 311.7,636.1 316.9,634.7 322.1,629.0 327.4,625.3 332.6,625.7 337.4,626.0 342.6,625.0 347.9,621.4 353.1,618.6 357.9,619.7 362.9,622.1 368.3,626.0 373.6,631.1 378.9,635.3 384.0,634.7 389.3,628.6 394.3,620.4 399.7,615.7 405.0,617.6 410.3,623.3 415.4,629.0 420.7,631.9 425.7,630.4 430.7,627.4 435.4,626.9 440.7,628.6 445.7,629.0 451.1,627.9 456.4,627.4 461.7,627.9 466.9,628.9 471.7,629.0 476.9,625.7 482.1,621.4 486.9,621.1 492.1,625.7 497.4,630.4 502.9,634.3 507.9,634.6 513.1,625.0 518.3,612.1 523.6,606.1 528.6,611.1 534.0,618.1 539.3,621.4 544.6,624.7 549.7,627.9 555.0,629.3 560.0,629.3 565.0,631.0 570.0,637.6 575.0,642.4 580.3,637.1 585.4,626.1 590.7,619.6 595.7,621.4 600.7,625.0 605.7,626.7 610.7,629.6 616.4,632.9 621.7,632.4 626.9,626.1 632.1,620.4 637.1,621.0 642.6,623.9 647.4,624.7 652.6,623.9 657.9,621.4 663.1,619.7 668.3,622.1 673.6,631.0 678.6,637.1 683.6,633.9 688.9,630.0 694.0,634.3 698.9,639.6 704.3,641.1 709.3,640.0 715.0,635.3 719.7,625.3 725.0,614.7 730.0,615.0 735.0,620.7 740.0,621.9 745.4,616.4 750.7,606.1 756.0,596.4 761.1,597.9 766.4,610.0 771.4,616.7 776.4,606.1 781.7,595.0 787.1,602.9 791.7,620.0 796.9,631.0 802.1,636.4 807.4,644.0 812.6,653.3 817.9,661.4 822.9,667.9 828.3,670.7 833.6,659.0 838.6,636.4 843.6,614.6 848.9,606.9 854.0,610.0 859.3,616.4 864.6,622.9 869.7,626.0 875.0,626.9 880.0,634.0 885.0,645.0 890.3,644.6 895.7,632.1 900.7,619.3 905.7,608.1 911.1,603.3 916.0,608.6 921.1,619.3 926.0,630.4 931.1,637.9 936.4,642.9 942.1,646.7 947.4,641.9 952.6,630.4 957.4,622.9 962.6,620.0 967.9,617.1 973.1,611.4 978.3,610.0 983.6,620.7 988.3,637.1 993.6,645.0 998.6,634.7 1004.0,617.6 1009.3,609.3 1014.0,610.4 1019.3,612.9 1024.6,613.3 1029.7,612.6 1035.0,611.9 1040.3,614.3 1045.4,623.6 1050.3,633.3 1055.4,633.9 1060.7,628.6 1066.0,624.3 1071.1,623.6 1076.4,627.9 1081.7,632.4 1086.9,630.4 1092.1,622.4 1097.1,616.1 1102.6,611.9 1107.9,607.9 1112.9,604.6 1118.3,601.1 1122.9,597.1 1127.9,591.0 1133.1,588.6 1138.6,598.4 1142.8,615.0 1147.6,633.0 1153.3,652.6 1157.4,670.7 1161.2,690.3 1164.9,715.9 1168.7,738.6 1174.4,756.6 1180.0,753.6 1185.3,735.5 1190.6,712.9 1195.1,688.8 1198.9,660.2 1203.1,625.5 1207.1,595.4 1210.9,568.2 1215.4,542.3 1221.2,532.8 1226.3,535.1 1231.7,543.4 1236.5,556.2 1241.8,572.8 1246.8,582.6 1252.4,584.1 1256.9,583.0 1262.2,582.6 1267.4,577.3 1272.0,566.7 1277.2,555.4 1283.0,552.9 1288.5,562.2 1293.1,581.8 1296.8,605.9 1300.6,633.0 1304.4,660.2 1308.1,693.3 1312.7,725.0 1318.7,752.1 1324.0,761.6 1329.2,763.0 1334.5,758.9 1339.3,741.6 1343.6,715.9 1347.3,685.8 1351.1,652.6 1355.3,622.5 1360.1,596.9 1364.7,575.8 1369.9,556.2 1376.0,548.6 1381.5,555.4 1386.5,570.5 1391.5,584.8 1396.3,594.6 1401.6,601.4 1406.9,605.9 1412.1,608.2 1417.1,609.3 1422.6,612.9 1427.9,618.6 1432.6,625.7 1437.4,633.6 1442.6,640.0 1447.9,647.9 1453.1,654.7 1458.6,655.0 1463.6,648.6 1468.9,639.3 1474.0,632.9 1479.3,630.7 1484.3,627.6 1489.7,624.6 1495.0,629.0 1500.0,632.9 1505.4,628.1 1510.3,623.1 1515.4,621.4 1520.7,621.9 1525.7,622.1 1531.1,621.9 1536.0,620.0 1541.4,617.1 1546.4,617.6 1551.4,618.6 1556.9,615.4 1562.1,612.9 1567.1,615.7 1572.6,618.6 1577.4,618.1 1582.6,615.4 1587.4,615.7 1592.9,620.0 1597.9,627.1 1602.9,634.0 1608.3,635.0 1613.1,631.9 1618.6,630.4 1623.6,633.6 1628.6,638.6 1634.3,642.9 1639.3,642.1 1644.6,638.6 1649.7,635.0 1655.0,630.0 1660.0,625.3 1665.4,622.9 1670.4,624.0 1675.7,627.1 1680.7,629.7 1685.7,629.6 1691.1,626.4 1696.0,621.4 1701.4,616.4 1706.4,617.6 1711.4,622.4 1716.0,624.3 1721.7,627.1 1727.4,630.0 1732.1,628.6 1737.1,622.9 1742.6,615.4 1747.4,605.0 1753.1,597.9 1758.6,602.6 1763.6,615.7 1768.3,625.7 1773.6,631.1 1778.9,635.0 1784.0,639.0 1789.3,640.1 1794.3,633.6 1799.3,625.7 1804.3,625.3 1810.0,631.4 1815.4,635.7 1820.7,639.6 1826.0,644.3 1830.7,648.3 1835.7,648.7 1840.7,641.4 1845.7,633.1 1850.7,628.6 1856.0,625.7 1861.4,622.6 1866.9,620.4 1872.1,621.0 1877.1,621.9 1882.1,616.4 1887.4,602.9 1892.6,593.3 1897.9,601.0 1902.9,615.7 1907.9,617.6 1912.9,609.6 1918.3,607.9 1923.6,615.7 1928.6,624.0 1934.0,630.7 1938.9,632.9 1944.0,635.3 1949.3,640.7 1954.6,644.3 1959.7,643.3 1965.0,643.1 1970.0,645.7 1975.0,646.7 1980.3,641.1 1985.4,635.3 1990.3,632.4 1995.7,630.7 2001.1,627.1 2006.0,621.0 2011.4,618.6 2016.4,622.9 2021.4,622.1 2032.1,606.1 2037.4,612.4 2042.6,622.9 2047.9,628.9 2053.1,626.7 2058.3,623.9 2063.6,622.6 2068.9,624.7 2074.0,631.4 2078.9,641.4 2083.6,651.4 2088.9,656.1 2094.0,653.3 2099.3,646.7 2104.3,639.6 2109.3,632.1 2111.7,628.1" fill="none" stroke="#404040" stroke-width="2.08" stroke-linejoin="round"/>
<polyline points="305.0,880.7 309.3,877.9 314.3,875.0 319.3,873.6 324.3,871.7 329.3,869.0 334.6,866.1 339.7,865.3 345.0,866.0 350.0,865.0 355.0,860.7 360.0,856.7 365.4,858.9 370.3,867.1 375.4,875.4 380.7,880.7 385.7,882.6 390.7,881.7 396.0,879.0 401.1,876.9 406.0,876.4 411.1,877.4 416.4,877.9 421.4,877.9 426.9,878.6 432.1,879.0 437.1,877.9 442.4,875.7 447.6,874.7 452.9,875.4 458.3,876.7 463.1,875.4 468.3,872.1 473.6,871.0 478.6,873.3 484.0,875.3 488.9,872.9 494.3,869.7 499.3,872.9 504.3,880.0 509.3,886.4 514.3,890.0 519.3,890.0 524.6,887.1 530.0,881.4 535.0,873.6 540.3,867.6 545.4,867.1 550.7,870.0 556.0,874.0 561.1,873.1 566.0,865.4 571.4,860.4 576.9,864.7 582.1,868.1 587.1,866.9 592.1,868.6 597.4,872.1 602.6,873.3 607.9,875.0 612.1,881.4 617.9,889.6 623.1,888.9 628.3,881.7 633.1,871.4 638.6,862.6 643.6,863.1 648.9,865.7 653.6,866.4 658.9,868.6 664.0,873.6 669.3,880.0 674.6,883.6 680.0,879.7 685.0,873.6 690.3,867.4 695.7,863.6 701.4,860.7 706.9,859.3 711.7,858.6 716.4,857.4 721.4,858.9 726.4,863.6 731.7,867.9 736.9,872.1 741.4,878.9 745.7,887.9 750.0,897.9 753.6,907.1 757.9,918.6 761.7,926.4 763.6,928.6 767.9,931.1 772.9,930.7 777.9,928.6 783.1,922.1 787.9,910.0 792.1,894.3 796.4,877.1 800.0,862.9 803.6,849.3 808.9,840.7 814.3,838.6 819.7,838.1 825.0,839.7 830.0,843.6 835.0,847.4 840.0,848.6 845.0,845.0 850.7,836.0 856.0,830.7 861.1,832.6 866.4,837.9 871.4,840.0 876.9,841.4 881.7,847.9 887.1,861.4 892.1,880.0 897.1,898.6 902.1,917.1 907.1,935.7 912.6,950.0 917.9,952.1 922.6,939.6 926.9,921.4 930.3,904.3 933.6,890.0 937.9,873.6 943.1,860.7 948.6,855.0 953.6,857.9 958.6,863.6 964.3,866.9 969.3,865.7 975.0,863.1 980.0,861.4 985.0,859.6 990.0,855.7 995.0,848.3 1000.3,842.1 1005.7,846.4 1010.7,860.7 1015.4,876.4 1020.7,887.1 1026.0,892.9 1031.1,898.6 1036.0,906.0 1041.1,913.6 1046.4,916.4 1051.7,912.9 1056.9,907.1 1062.1,901.4 1067.1,896.0 1072.6,888.6 1077.9,882.6 1082.9,879.3 1088.3,876.0 1093.6,868.6 1098.5,855.1 1103.7,840.0 1108.8,830.3 1114.3,827.0 1119.2,826.7 1124.4,821.9 1129.3,812.5 1134.1,802.0 1139.9,798.1 1145.3,802.4 1150.5,809.7 1155.8,818.3 1160.9,834.2 1165.2,858.1 1169.3,885.6 1173.2,913.1 1176.8,939.1 1180.8,966.6 1186.2,992.6 1191.3,1007.8 1196.8,1011.1 1202.1,1000.6 1207.2,978.2 1210.8,953.6 1214.1,927.5 1218.0,900.1 1221.9,876.9 1227.1,853.0 1232.5,839.0 1237.8,834.7 1243.0,838.6 1248.4,843.6 1253.5,842.9 1258.5,835.0 1263.6,824.8 1268.6,816.2 1274.0,808.9 1279.2,806.0 1284.6,810.4 1289.9,822.7 1295.4,842.2 1300.0,862.4 1304.8,884.1 1309.9,903.0 1315.4,914.2 1320.7,919.2 1325.8,919.6 1330.8,916.7 1336.2,910.2 1341.4,900.1 1346.8,886.3 1351.5,873.7 1356.9,867.2 1361.9,866.8 1367.0,870.4 1372.1,875.5 1377.1,880.5 1382.5,883.1 1385.0,883.6 1388.4,883.1 1394.3,881.9 1398.6,882.1 1403.6,883.3 1408.3,882.6 1413.6,878.3 1418.9,874.3 1424.0,872.6 1429.3,872.1 1434.6,870.4 1439.7,867.9 1445.0,865.0 1450.0,863.9 1455.0,865.4 1460.3,866.9 1465.4,865.0 1470.7,860.7 1475.7,858.6 1481.1,862.4 1486.0,869.3 1491.1,875.7 1496.4,877.4 1501.4,875.0 1506.9,872.1 1511.7,870.4 1516.9,870.3 1521.9,872.9 1527.1,877.4 1532.6,881.1 1537.9,882.9 1542.9,882.1 1548.3,881.4 1553.6,882.4 1558.9,883.1 1564.3,881.7 1569.7,880.4 1574.6,881.0 1579.7,882.6 1583.6,882.9 1588.9,878.3 1594.3,872.9 1599.3,870.7 1604.6,872.6 1609.7,873.7 1615.0,872.1 1620.3,869.6 1625.7,867.1 1631.1,866.0 1636.4,865.7 1641.7,865.7 1646.9,865.3 1651.4,865.4 1656.9,868.3 1661.7,874.3 1666.9,880.7 1672.1,882.1 1677.4,880.3 1682.6,878.9 1687.9,879.6 1695.7,880.4 1702.1,878.6 1707.4,874.7 1712.9,869.3 1718.3,863.1 1723.6,856.9 1728.9,854.6 1734.6,859.3 1739.3,866.9 1744.0,874.3 1749.3,881.1 1754.6,888.3 1760.0,896.9 1765.0,903.3 1770.3,905.3 1775.4,902.4 1780.7,896.1 1785.7,888.6 1790.7,880.7 1795.7,872.9 1801.1,866.1 1806.4,862.6 1811.7,861.4 1816.9,860.9 1821.7,860.4 1826.9,861.7 1832.1,865.0 1837.1,867.4 1842.6,870.0 1847.9,872.9 1852.9,874.0 1857.9,870.7 1863.1,864.6 1868.3,860.7 1873.6,860.7 1878.6,864.3 1884.0,869.0 1889.3,872.9 1894.6,875.7 1899.7,878.6 1905.0,882.4 1910.0,886.7 1915.0,889.7 1920.0,890.7 1925.0,889.3 1930.3,887.1 1935.4,884.6 1940.7,880.7 1946.0,875.7 1951.1,870.0 1956.4,866.0 1961.4,865.0 1966.9,865.4 1972.1,865.7 1977.4,865.4 1982.1,865.7 1987.4,869.3 1992.1,875.4 1997.1,880.7 2002.1,882.4 2008.6,882.9 2014.0,885.4 2019.3,888.6 2023.6,889.6 2028.6,887.9 2034.0,883.6 2039.3,879.3 2044.6,875.0 2049.7,870.4 2055.0,866.0 2060.0,862.1 2065.4,859.7 2070.7,859.0 2076.0,859.7 2081.1,861.7 2085.7,863.1 2090.7,863.1 2095.4,863.3 2100.7,867.4 2105.0,874.0 2108.6,880.0 2111.7,885.4" fill="none" stroke="#404040" stroke-width="2.08" stroke-linejoin="round"/>
<polyline points="305.0,1122.6 309.3,1121.1 314.3,1120.7 319.3,1121.4 324.3,1122.6 329.3,1122.9 335.0,1122.9 340.7,1123.3 346.4,1123.9 351.4,1123.7 355.7,1123.6 360.7,1124.0 365.7,1124.6 370.7,1125.0 376.4,1125.3 381.4,1124.0 386.4,1122.6 391.4,1122.9 397.1,1123.9 402.1,1123.1 407.9,1121.9 412.9,1121.9 417.9,1123.1 422.9,1123.9 427.9,1123.1 433.6,1122.1 439.3,1122.4 444.3,1123.1 449.3,1123.1 454.3,1122.9 460.0,1123.6 465.7,1124.3 470.7,1123.6 476.4,1122.4 481.4,1121.7 486.4,1121.7 491.4,1122.6 497.1,1123.6 502.9,1124.3 507.9,1124.3 512.9,1124.0 518.6,1123.9 524.3,1123.6 530.0,1123.3 535.7,1123.1 541.4,1123.1 547.1,1123.3 552.9,1123.1 557.9,1122.9 562.9,1122.6 567.9,1122.1 572.9,1122.4 578.6,1122.9 584.3,1123.3 590.0,1123.9 595.0,1123.9 600.0,1123.3 605.0,1123.1 610.7,1123.6 615.7,1123.9 621.1,1123.6 626.9,1122.9 632.1,1122.4 637.4,1122.9 642.6,1123.6 647.4,1123.6 652.9,1122.4 656.4,1121.9 661.4,1122.9 666.4,1125.0 671.7,1125.0 676.4,1122.9 681.4,1123.1 686.9,1125.0 692.1,1124.0 697.1,1121.9 702.9,1120.7 707.9,1121.1 713.1,1121.9 718.3,1122.6 723.6,1121.9 728.3,1120.7 732.9,1122.9 738.6,1127.9 744.0,1130.0 749.3,1130.0 754.3,1127.9 759.3,1123.3 764.3,1121.9 769.3,1120.3 774.6,1115.0 779.7,1113.3 784.6,1118.1 789.7,1125.3 795.0,1131.4 800.4,1135.3 805.4,1133.6 810.7,1127.6 815.7,1123.6 821.1,1120.0 826.4,1116.4 831.4,1114.6 836.4,1112.4 841.7,1111.7 846.9,1116.9 852.1,1120.7 857.1,1121.0 862.6,1125.4 867.9,1129.7 872.9,1133.3 877.9,1138.3 883.1,1139.3 888.3,1131.4 893.1,1120.0 898.3,1108.3 903.6,1104.3 909.3,1111.1 914.3,1120.4 919.7,1130.0 924.3,1135.7 929.7,1140.7 935.0,1138.6 940.0,1128.3 945.0,1114.6 950.3,1108.6 955.4,1110.0 960.7,1112.9 965.7,1115.3 970.7,1115.3 976.0,1116.0 981.4,1126.4 986.4,1140.3 991.4,1147.6 997.1,1140.7 1001.7,1126.4 1006.9,1114.3 1012.1,1111.9 1017.4,1118.6 1022.6,1125.3 1027.9,1125.3 1032.9,1121.0 1037.9,1119.7 1043.1,1124.6 1048.1,1132.1 1053.6,1132.6 1058.6,1122.9 1063.6,1110.7 1068.6,1100.0 1074.0,1098.1 1079.3,1105.4 1084.3,1112.4 1089.3,1117.4 1094.6,1122.9 1099.7,1129.6 1105.0,1140.7 1110.0,1151.4 1115.4,1158.9 1120.7,1159.3 1125.7,1153.6 1131.1,1145.4 1136.4,1137.4 1141.4,1127.1 1146.4,1112.9 1151.4,1094.3 1156.4,1076.4 1161.4,1063.6 1167.1,1059.3 1172.9,1067.9 1177.9,1080.7 1183.5,1102.5 1188.2,1130.7 1192.9,1163.6 1197.6,1199.7 1203.1,1220.8 1208.9,1223.2 1214.1,1209.1 1219.6,1182.4 1224.3,1154.2 1229.0,1126.0 1234.0,1102.5 1239.2,1089.2 1245.0,1084.5 1250.6,1087.6 1255.6,1095.4 1260.3,1101.4 1265.8,1099.3 1271.0,1089.2 1276.0,1071.9 1281.0,1050.0 1286.2,1031.9 1291.7,1023.3 1297.1,1025.7 1301.8,1039.8 1306.6,1063.3 1310.8,1093.1 1315.2,1129.1 1319.6,1165.2 1323.8,1198.1 1327.7,1227.9 1332.4,1249.8 1337.9,1260.0 1343.4,1252.2 1348.1,1231.0 1352.8,1204.4 1357.5,1176.1 1363.0,1147.9 1368.5,1124.4 1373.9,1106.4 1379.1,1096.2 1384.5,1089.2 1389.6,1082.1 1395.1,1075.5 1399.8,1068.8 1405.3,1060.9 1410.8,1053.9 1415.5,1052.6 1421.0,1057.8 1426.5,1068.8 1431.2,1082.1 1436.6,1099.3 1441.3,1118.2 1446.8,1140.1 1452.3,1165.2 1457.0,1176.1 1461.4,1179.7 1466.4,1179.7 1471.7,1177.1 1476.9,1173.6 1482.1,1168.9 1487.4,1163.1 1492.6,1156.4 1497.9,1148.9 1502.9,1141.4 1507.9,1133.1 1512.6,1123.6 1517.1,1112.9 1521.7,1101.4 1527.1,1090.0 1532.6,1083.6 1537.9,1082.1 1543.1,1084.3 1548.6,1087.4 1553.6,1091.7 1558.6,1096.9 1564.0,1102.1 1569.3,1106.4 1574.6,1110.3 1579.7,1114.3 1585.0,1119.7 1590.0,1125.7 1595.0,1132.1 1599.7,1138.9 1605.0,1146.1 1610.3,1150.7 1615.7,1152.1 1620.7,1150.3 1625.7,1145.4 1631.1,1139.6 1636.0,1134.0 1641.1,1127.4 1646.4,1120.7 1651.4,1115.7 1656.9,1112.1 1662.1,1110.7 1667.1,1111.0 1672.6,1112.4 1677.9,1113.1 1683.1,1113.9 1688.3,1115.0 1693.6,1116.6 1698.6,1117.9 1704.0,1119.0 1709.3,1120.1 1714.3,1122.1 1719.7,1125.0 1725.0,1127.6 1730.0,1130.0 1735.0,1132.4 1740.0,1134.7 1745.4,1136.1 1750.7,1136.4 1755.7,1136.7 1760.7,1136.0 1766.0,1134.6 1771.1,1133.3 1776.4,1132.1 1781.7,1131.0 1786.9,1129.6 1792.1,1127.9 1797.4,1126.4 1802.6,1125.0 1807.9,1124.0 1812.9,1122.9 1818.3,1121.1 1823.6,1119.3 1828.9,1117.1 1834.3,1114.3 1839.3,1111.7 1844.6,1109.6 1850.0,1107.6 1855.0,1106.0 1860.0,1105.4 1865.4,1106.7 1870.7,1108.9 1875.7,1111.4 1880.7,1114.7 1885.7,1117.6 1890.7,1120.0 1895.7,1124.3 1900.7,1129.3 1905.7,1132.1 1911.1,1132.9 1916.4,1131.0 1921.7,1129.3 1927.1,1129.6 1932.1,1130.0 1937.1,1127.9 1942.1,1124.6 1947.4,1122.9 1952.9,1124.0 1958.3,1125.3 1963.6,1126.4 1968.6,1126.9 1973.6,1126.4 1978.6,1127.1 1984.0,1127.6 1989.3,1125.7 1994.6,1123.9 1999.7,1121.7 2005.0,1120.4 2010.3,1121.0 2015.4,1121.7 2020.7,1121.7 2025.7,1121.9 2030.7,1124.3 2036.0,1126.9 2041.1,1128.1 2046.4,1129.0 2051.4,1130.0 2056.9,1129.6 2062.1,1127.1 2071.4,1122.9 2076.9,1122.1 2082.1,1121.0 2087.4,1119.7 2092.9,1118.6 2097.9,1118.1 2102.9,1117.9 2107.1,1117.6 2111.7,1117.1" fill="none" stroke="#404040" stroke-width="2.08" stroke-linejoin="round"/>
<text x="325" y="330.0" class="lb">608600032 | 1.00</text>
<text x="325" y="579.5" class="lb">1508717 | 0.79</text>
<text x="325" y="827.5" class="lb">1508752 | 0.71</text>
<text x="325" y="1076.0" class="lb">1509795 | 0.70</text>
<rect x="661.33" y="315.05" width="8.34" height="124.6" fill="#ff0000"/>
<rect x="1126.43" y="315.05" width="8.34" height="124.6" fill="#00e600"/>
<rect x="1170.33" y="563.85" width="8.34" height="124.6" fill="#00e600"/>
<rect x="753.43" y="812.20" width="8.34" height="124.6" fill="#00e600"/>
<rect x="1163.13" y="1060.75" width="8.34" height="124.6" fill="#00e600"/>
<text x="458.25" y="1617" text-anchor="middle" class="tk">-0.2</text>
<text x="664.40" y="1617" text-anchor="middle" class="tk">0</text>
<text x="872.15" y="1617" text-anchor="middle" class="tk">0.2</text>
<text x="1078.40" y="1617" text-anchor="middle" class="tk">0.4</text>
<text x="1285.25" y="1617" text-anchor="middle" class="tk">0.6</text>
<text x="1492.30" y="1617" text-anchor="middle" class="tk">0.8</text>
<text x="1696.85" y="1617" text-anchor="middle" class="tk">1</text>
<text x="1905.20" y="1617" text-anchor="middle" class="tk">1.2</text>
<text x="2111.60" y="1617" text-anchor="middle" class="tk">1.4</text>
<text x="1208" y="96" text-anchor="middle" class="ti">608600032.OO.AXEC1.EHN</text>
</svg>
</body></html>
